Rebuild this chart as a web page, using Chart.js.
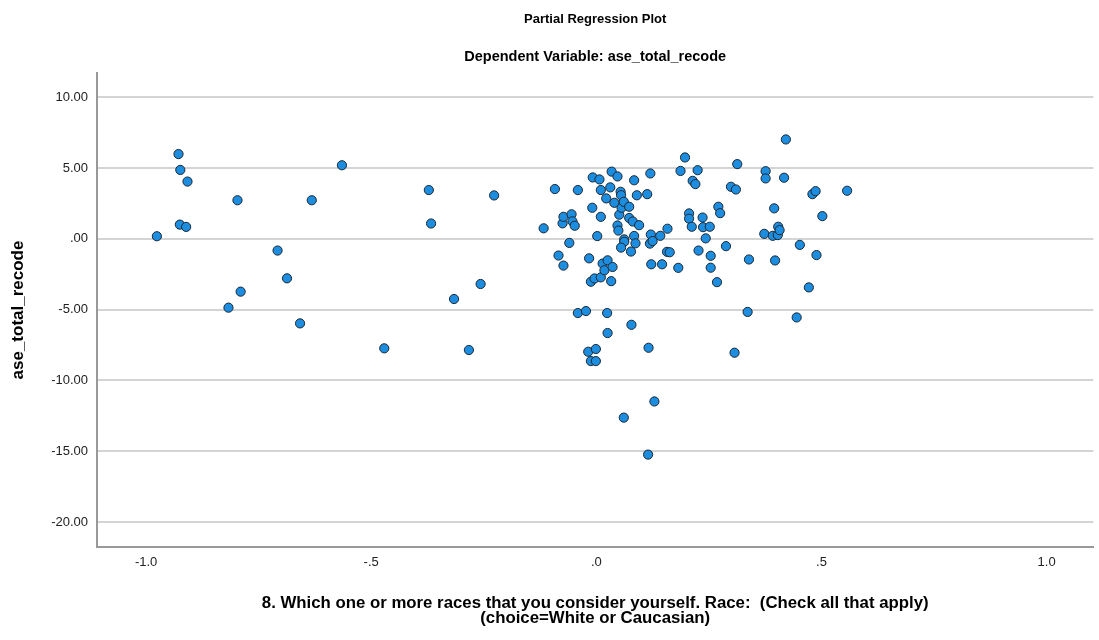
<!DOCTYPE html>
<html>
<head>
<meta charset="utf-8">
<script src="https://cdn.jsdelivr.net/npm/chart.js@4/dist/chart.umd.min.js"></script>
<style>
  html, body { margin: 0; padding: 0; background: #ffffff; }
  #wrap { width: 1099px; height: 640px; position: relative; }
</style>
</head>
<body>
<div id="wrap"><canvas id="c" width="1099" height="640"></canvas></div>
<script>
const chartTitle = 'Partial Regression Plot';
const chartSubtitle = 'Dependent Variable: ase_total_recode';
const yAxisTitle = 'ase_total_recode';
const xAxisTitleLines = [
  '8. Which one or more races that you consider yourself. Race:  (Check all that apply)',
  '(choice=White or Caucasian)'
];

const xTickValues = [-1, -0.5, 0, 0.5, 1];
const xTickLabels = ['-1.0', '-.5', '.0', '.5', '1.0'];
const yTickValues = [-20, -15, -10, -5, 0, 5, 10];
const yTickLabels = ['-20.00', '-15.00', '-10.00', '-5.00', '.00', '5.00', '10.00'];

const xValues = [
  -0.976, -0.928, -0.924, -0.908, -0.925, -0.911, -0.817, -0.797, -0.790, -0.708,
  -0.687, -0.658, -0.632, -0.565, -0.471, -0.372, -0.367, -0.316, -0.283, -0.257,
  -0.227, -0.117, -0.092, -0.084, -0.075, -0.073, -0.073, -0.060, -0.055, -0.053,
  -0.048, -0.041, -0.041, -0.023, -0.018, -0.016, -0.012, -0.012, -0.009, -0.008,
  -0.004, -0.001, -0.001, 0.002, 0.007, 0.010, 0.010, 0.010, 0.014, 0.018,
  0.022, 0.024, 0.025, 0.025, 0.031, 0.033, 0.034, 0.036, 0.040, 0.047,
  0.047, 0.049, 0.051, 0.054, 0.055, 0.056, 0.061, 0.062, 0.062, 0.055,
  0.061, 0.073, 0.073, 0.077, 0.078, 0.081, 0.084, 0.084, 0.087, 0.090,
  0.095, 0.113, 0.115, 0.116, 0.119, 0.120, 0.121, 0.122, 0.125, 0.129,
  0.142, 0.146, 0.157, 0.158, 0.163, 0.182, 0.187, 0.197, 0.206, 0.206,
  0.212, 0.214, 0.220, 0.225, 0.227, 0.236, 0.237, 0.243, 0.252, 0.254,
  0.254, 0.268, 0.271, 0.275, 0.288, 0.299, 0.307, 0.310, 0.313, 0.336,
  0.339, 0.373, 0.376, 0.376, 0.392, 0.395, 0.397, 0.403, 0.404, 0.407,
  0.417, 0.421, 0.445, 0.452, 0.472, 0.480, 0.487, 0.489, 0.502, 0.557
];
const yValues = [
  0.18, 5.98, 4.86, 4.04, 1.00, 0.84, -4.86, 2.72, -3.73, -0.83,
  -2.79, -5.97, 2.72, 5.19, -7.73, 3.44, 1.08, -4.25, -7.85, -3.19,
  3.06, 0.74, 3.51, -1.18, 1.09, 1.55, -1.89, -0.29, 1.73, 1.23,
  0.92, 3.44, -5.24, -5.10, -7.97, -1.38, -3.03, -8.63, 2.19, 4.33,
  -2.80, -7.78, -8.63, 0.19, 4.19, 1.55, 3.44, -2.72, -1.75, -2.22,
  2.85, -5.24, -1.52, -6.65, 3.63, -2.99, 4.74, -1.99, 2.54, 4.40,
  0.94, 0.58, 1.70, 3.32, 3.08, 2.19, 2.61, -0.04, -0.21, -0.62,
  -12.62, 2.26, 1.47, -0.90, -6.07, 1.22, 0.20, 4.13, -0.32, 3.07,
  0.96, 3.15, -15.23, -7.69, -0.34, 4.61, 0.30, -1.80, -0.16, -11.48,
  0.21, -1.80, -0.92, 0.71, -0.95, -2.05, 4.79, 5.74, 1.79, 1.42,
  0.85, 4.09, 3.86, 4.84, -0.83, 1.50, 0.82, 0.03, 0.85, -1.20,
  -2.04, -3.06, 2.26, 1.81, -0.52, 3.67, -8.04, 3.48, 5.27, -5.16,
  -1.46, 0.35, 4.77, 4.26, 0.21, 2.15, -1.53, 0.26, 0.85, 0.61,
  4.31, 7.01, -5.55, -0.43, -3.43, 3.15, 3.36, -1.15, 1.60, 3.39
];

const points = xValues.map((x, i) => ({ x: x, y: yValues[i] }));

const FONT = "'Liberation Sans', Arial, Helvetica, sans-serif";

const textPlugin = {
  id: 'textPlugin',
  afterDraw(chart) {
    const ctx = chart.ctx;
    const ca = chart.chartArea;
    const cx = (ca.left + ca.right) / 2;
    ctx.save();
    ctx.fillStyle = '#000000';
    ctx.textAlign = 'center';
    ctx.textBaseline = 'middle';
    ctx.font = 'bold 13px ' + FONT;
    ctx.fillText(chartTitle, cx, 19);
    ctx.font = 'bold 14.5px ' + FONT;
    ctx.fillText(chartSubtitle, cx, 57);
    ctx.font = 'bold 16.8px ' + FONT;
    xAxisTitleLines.forEach((line, i) => {
      ctx.fillText(line, cx, 603 + i * 15);
    });
    ctx.font = 'bold 17px ' + FONT;
    ctx.translate(18, (ca.top + ca.bottom) / 2);
    ctx.rotate(-Math.PI / 2);
    ctx.fillText(yAxisTitle, 0, 0);
    ctx.restore();
  }
};

new Chart(document.getElementById('c'), {
  type: 'scatter',
  data: {
    datasets: [{
      data: points,
      pointRadius: 4.6,
      pointHoverRadius: 4.6,
      pointBorderWidth: 1,
      pointBackgroundColor: '#1d8ddf',
      pointBorderColor: '#1b2733'
    }]
  },
  options: {
    responsive: false,
    animation: false,
    layout: { padding: { top: 73, right: 4, left: 0, bottom: 0 } },
    plugins: {
      legend: { display: false },
      tooltip: { enabled: false },
      title: { display: false }
    },
    scales: {
      x: {
        type: 'linear',
        min: -1.109,
        max: 1.104,
        afterBuildTicks: (scale) => { scale.ticks = xTickValues.map(v => ({ value: v })); },
        afterFit: (scale) => { scale.height = 93; },
        grid: { display: false, drawTicks: false },
        border: { display: true, color: '#999999', width: 2 },
        ticks: {
          padding: 8,
          color: '#222222',
          font: { family: FONT, size: 13 },
          maxRotation: 0,
          autoSkip: false,
          callback: (v) => { const i = xTickValues.indexOf(v); return i >= 0 ? xTickLabels[i] : ''; }
        }
      },
      y: {
        type: 'linear',
        min: -21.75,
        max: 11.7,
        afterBuildTicks: (scale) => { scale.ticks = yTickValues.map(v => ({ value: v })); },
        afterFit: (scale) => { scale.width = 97; },
        grid: { display: true, color: '#d4d4d4', lineWidth: 2, drawTicks: false },
        border: { display: true, color: '#999999', width: 2 },
        ticks: {
          padding: 9,
          color: '#222222',
          font: { family: FONT, size: 13 },
          autoSkip: false,
          callback: (v) => { const i = yTickValues.indexOf(v); return i >= 0 ? yTickLabels[i] : ''; }
        }
      }
    }
  },
  plugins: [textPlugin]
});
</script>
</body>
</html>
